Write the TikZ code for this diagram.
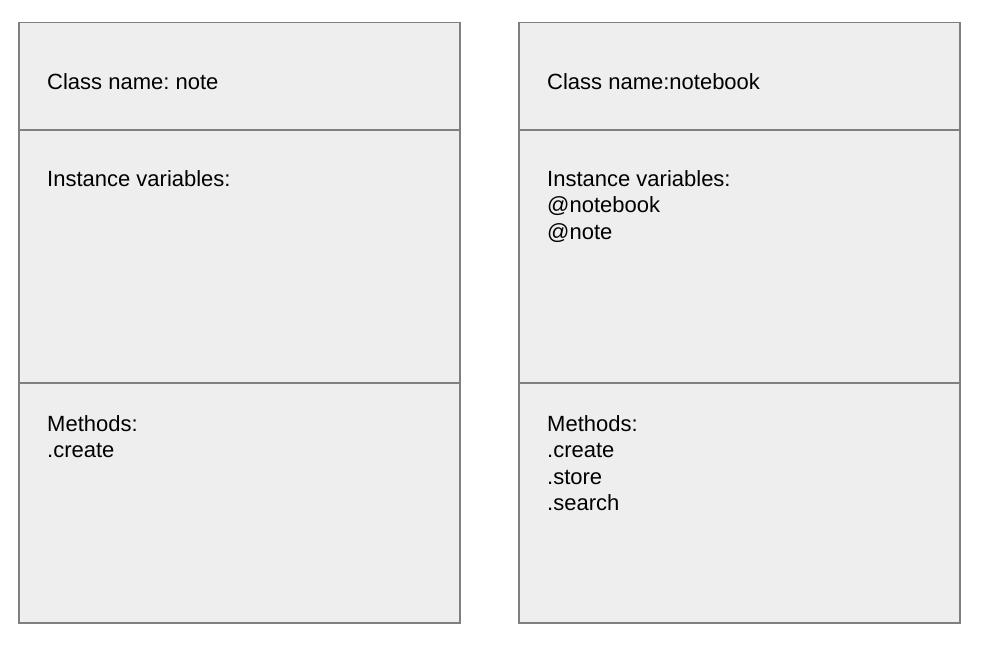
\documentclass[tikz,border=0pt]{standalone}
\usepackage{fontspec}
\setmainfont{Liberation Sans}
\frenchspacing
\definecolor{boxfill}{HTML}{EEEEEE}
\definecolor{boxline}{HTML}{7F7F7F}
\begin{document}
\begin{tikzpicture}[x=1pt,y=-1pt,
  part/.style={draw=boxline,fill=boxfill,line width=1.5pt,rectangle,inner sep=0pt,anchor=north west,minimum width=441pt},
  label/.style={anchor=north west,inner sep=0pt,align=left,font=\fontsize{22}{26.5}\selectfont\frenchspacing,text=black}]
\useasboundingbox (0,0) rectangle (984,658);
% left class
\node[part,minimum height=107pt] (lname) at (18,22) {};
\node[part,minimum height=253pt] (lvars) at (18,129) {};
\node[part,minimum height=240pt] (lmeth) at (18,382) {};
% right class
\node[part,minimum height=107pt] (rname) at (518,22) {};
\node[part,minimum height=253pt] (rvars) at (518,129) {};
\node[part,minimum height=240pt] (rmeth) at (518,382) {};
% texts
\node[label] (t1) at (47,73) {Class name: note};
\node[label] (t2) at (47,170) {Instance variables:};
\node[label] (t3) at (47,415) {Methods:\\.create};
\node[label] (t4) at (547,73) {Class name:notebook};
\node[label] (t5) at (547,170) {Instance variables:\\@notebook\\@note};
\node[label] (t6) at (547,415) {Methods:\\.create\\.store\\.search};
\end{tikzpicture}
\end{document}
